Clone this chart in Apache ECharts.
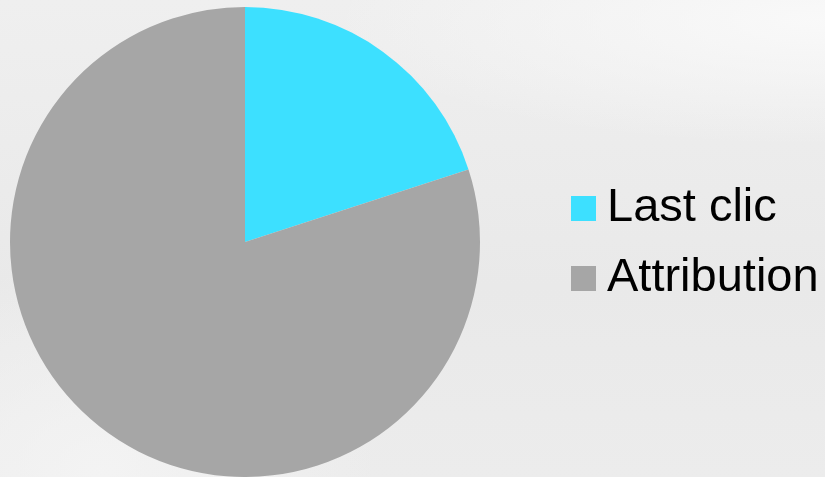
<!DOCTYPE html>
<html>
<head>
<meta charset="utf-8">
<script src="https://cdn.jsdelivr.net/npm/echarts@6/dist/echarts.min.js"></script>
<style>
  html, body { margin: 0; padding: 0; }
  #chart {
    width: 825px;
    height: 477px;
    background:
      radial-gradient(ellipse 700px 180px at 820px 20px, rgba(250,250,250,0.9), rgba(250,250,250,0) 70%),
      radial-gradient(ellipse 400px 300px at 100px 470px, rgba(245,245,245,0.8), rgba(245,245,245,0) 70%),
      linear-gradient(180deg, #efefef 0%, #e9e9e9 60%, #ececec 100%);
  }
</style>
</head>
<body>
<div id="chart"></div>
<script>
const categories = ['Last clic', 'Attribution']
const values = [20, 80]
const colors = ['#3de0ff', '#a6a6a6']

const myChart = echarts.init(document.getElementById('chart'))

const option = {
  backgroundColor: 'transparent',
  color: colors,
  legend: {
    orient: 'vertical',
    left: 566,
    top: 180,
    itemWidth: 25,
    itemHeight: 25,
    itemGap: 23,
    icon: 'rect',
    data: categories,
    textStyle: {
      color: '#000',
      fontSize: 47,
      fontFamily: 'Liberation Sans, Arial, sans-serif',
      padding: [0, 0, 0, 6]
    }
  },
  series: [
    {
      type: 'pie',
      center: [245, 242],
      radius: 235,
      startAngle: 90,
      clockwise: true,
      label: { show: false },
      labelLine: { show: false },
      emphasis: { disabled: true },
      data: categories.map((name, i) => ({ name, value: values[i] }))
    }
  ]
}

myChart.setOption(option)
</script>
</body>
</html>
